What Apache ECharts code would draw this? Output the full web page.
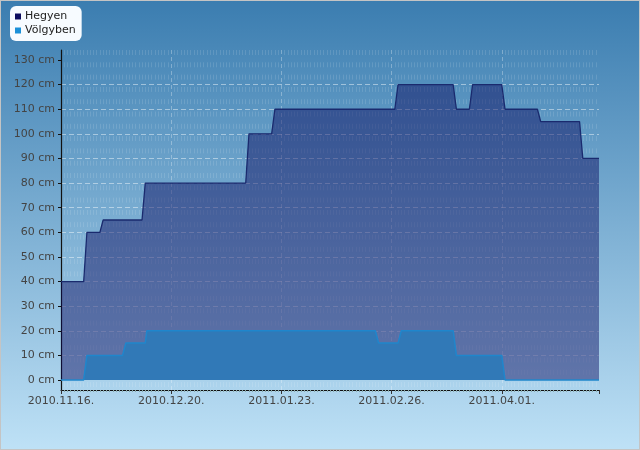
<!DOCTYPE html>
<html>
<head>
<meta charset="utf-8">
<style>
  html, body { margin: 0; padding: 0; }
  #chart { width: 640px; height: 450px; box-sizing: border-box; border: 1px solid #c4c4c4; }
</style>
<script src="https://cdn.jsdelivr.net/npm/echarts@6/dist/echarts.min.js"></script>
</head>
<body>
<div id="chart"></div>
<script>
// days counted from 2010.11.16.
const hegyenDays = [0, 7, 8, 12, 13, 25, 26, 57, 58, 65, 66, 103, 104, 121, 122, 126, 127, 136, 137, 147, 148, 160, 161, 166]
const hegyenCm   = [40, 40, 60, 60, 65, 65, 80, 80, 100, 100, 110, 110, 120, 120, 110, 110, 120, 120, 110, 110, 105, 105, 90, 90]

const volgyDays = [0, 7, 8, 19, 20, 26, 26.5, 97, 98, 104, 105, 121, 122, 136, 137, 166]
const volgyCm   = [0, 0, 10, 10, 15, 15, 20, 20, 15, 15, 20, 20, 10, 10, 0, 0]

const xTickDays = [0, 34, 68, 102, 136]
const xTickLabels = ['2010.11.16.', '2010.12.20.', '2011.01.23.', '2011.02.26.', '2011.04.01.']
const yTicks = [0, 10, 20, 30, 40, 50, 60, 70, 80, 90, 100, 110, 120, 130]

const pairs = (xs, ys) => xs.map((x, i) => [x, ys[i]])

const myChart = echarts.init(document.getElementById('chart'))
myChart.setOption({
  animation: false,
  backgroundColor: {
    type: 'linear', x: 0, y: 0, x2: 0, y2: 1,
    colorStops: [
      { offset: 0, color: '#3b7db0' },
      { offset: 1, color: '#bee1f6' }
    ]
  },
  textStyle: { fontFamily: 'DejaVu Sans' },
  legend: {
    orient: 'vertical',
    left: 9,
    top: 5,
    padding: [5, 6, 5, 5],
    itemGap: 3,
    itemWidth: 6,
    itemHeight: 6,
    backgroundColor: '#f7fbff',
    borderRadius: 6,
    textStyle: { fontSize: 11, color: '#222', padding: [0, 0, 0, -1] },
    data: [
      { name: 'Hegyen', icon: 'rect', itemStyle: { color: '#0c0c5e' } },
      { name: 'Völgyben', icon: 'rect', itemStyle: { color: '#1b90d8' } }
    ]
  },
  grid: { left: 60, right: 40, top: 49, bottom: 59 },
  xAxis: {
    type: 'value',
    min: 0,
    max: 166,
    interval: 34,
    axisLine: { onZero: false, lineStyle: { color: '#111', width: 1.2 } },
    axisTick: { length: 4, lineStyle: { color: '#333' } },
    minorTick: { show: true, splitNumber: 34, length: 2, lineStyle: { color: '#8aa' } },
    axisLabel: {
      showMaxLabel: false,
      color: '#444',
      fontSize: 11,
      margin: 6,
      formatter: v => {
        const i = xTickDays.indexOf(v)
        return i >= 0 ? xTickLabels[i] : ''
      }
    },
    splitLine: { showMinLine: false, showMaxLine: false, lineStyle: { color: 'rgba(255,255,255,0.3)', type: [4, 3] } },
    minorSplitLine: { show: true, lineStyle: { color: 'rgba(255,255,255,0.12)', type: [5, 7.3] } }
  },
  yAxis: {
    type: 'value',
    min: -4.06,
    max: 134.06,
    axisLine: { show: true, lineStyle: { color: '#111', width: 1.2 } },
    axisTick: { show: true, length: 3, customValues: yTicks, lineStyle: { color: '#111' } },
    axisLabel: {
      customValues: yTicks,
      color: '#444',
      fontSize: 11,
      margin: 6,
      formatter: v => v + ' cm'
    },
    splitLine: {
      showMinLine: false,
      showMaxLine: false,
      lineStyle: { color: 'rgba(255,255,255,0.45)', type: [5, 3] }
    }
  },
  series: [
    {
      name: 'Hegyen',
      type: 'line',
      symbol: 'none',
      data: pairs(hegyenDays, hegyenCm),
      itemStyle: { color: '#0c0c5e' },
      lineStyle: { color: '#1a2a6e', width: 1.3 },
      areaStyle: { color: 'rgba(10,8,92,0.66)', origin: 0 }
    },
    {
      name: 'Völgyben',
      type: 'line',
      symbol: 'none',
      data: pairs(volgyDays, volgyCm),
      itemStyle: { color: '#1b90d8' },
      lineStyle: { color: '#1f86cc', width: 1.5 },
      areaStyle: { color: '#3179b7', opacity: 1, origin: 0 }
    }
  ]
})
</script>
</body>
</html>
